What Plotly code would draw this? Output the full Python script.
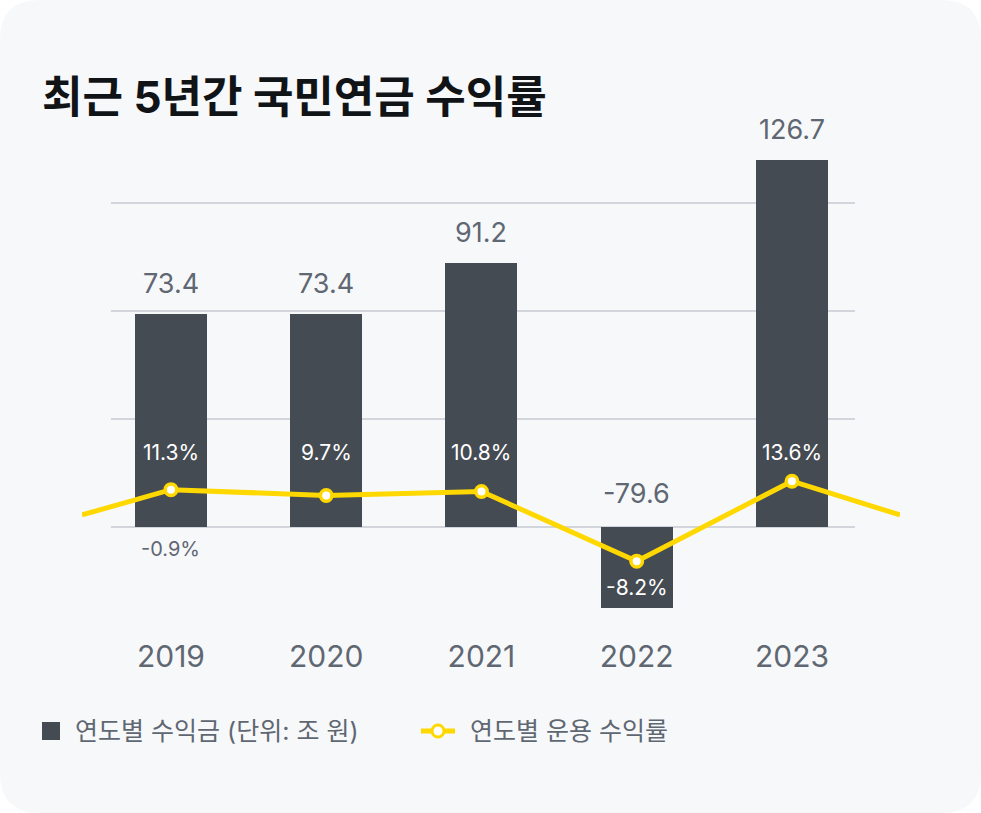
import plotly.graph_objects as go

# ---- data ----
years = ["2019", "2020", "2021", "2022", "2023"]
profit = [73.4, 73.4, 91.2, -79.6, 126.7]          # 연도별 수익금 (조 원)
returns = [11.3, 9.7, 10.8, -8.2, 13.6]            # 연도별 운용 수익률 (%)
line_lead_in = 4.4                                 # line entering from left edge
line_lead_out = 4.4                                # line leaving to right edge
prev_year_return = -0.9                            # label shown under 2019
title = "최근 5년간 국민연금 수익률"
legend_bar = "연도별 수익금 (단위: 조 원)"
legend_line = "연도별 운용 수익률"

# ---- layout geometry (pixels) ----
W, H = 981, 813
PL, PR, PT, PB = 82, 900, 120, 608
X0, X1 = -0.573, 4.696          # category range across plot area
ZERO_PX = 527
K_BAR = 2.9                      # px per 조 원
GRID_STEP_PX = 108
K_LINE = 3.667                   # px per %
LINE_ZERO_PX = 531.1

def px_x(p):
    return (p - PL) / (PR - PL)

def px_y(p):
    return (PB - p) / (PB - PT)

bar_lo = -(PB - ZERO_PX) / K_BAR
bar_hi = (ZERO_PX - PT) / K_BAR
line_lo = -(PB - LINE_ZERO_PX) / K_LINE
line_hi = (LINE_ZERO_PX - PT) / K_LINE

FONT = "Inter, 'Noto Sans CJK KR', sans-serif"
BAR_C = "#454b53"
GRAY_T = "#5f6772"
GRID_C = "#c6cbd2"
YEL = "#ffd800"
CARD = "#f7f8fa"

xs = list(range(len(years)))

fig = go.Figure()
fig.add_trace(go.Bar(
    x=xs, y=profit, width=0.464, marker=dict(color=BAR_C, line=dict(width=0)),
    name=legend_bar, showlegend=False, hoverinfo="skip",
))
line_x = [X0] + xs + [X1]
line_y = [line_lead_in] + returns + [line_lead_out]
fig.add_trace(go.Scatter(
    x=line_x, y=line_y, yaxis="y2", mode="lines",
    line=dict(color=YEL, width=5), showlegend=False, hoverinfo="skip",
))
fig.add_trace(go.Scatter(
    x=xs, y=returns, yaxis="y2", mode="markers",
    marker=dict(size=11.5, color="white", line=dict(color=YEL, width=3.5)),
    showlegend=False, hoverinfo="skip", cliponaxis=False,
))

shapes = []
# card background
r = 40
x0p, x1p, y0p, y1p = px_x(0), px_x(W), px_y(H), px_y(0)
rx = r / (PR - PL)
ry = r / (PB - PT)
path = (f"M {x0p+rx},{y1p} L {x1p-rx},{y1p} Q {x1p},{y1p} {x1p},{y1p-ry} "
        f"L {x1p},{y0p+ry} Q {x1p},{y0p} {x1p-rx},{y0p} L {x0p+rx},{y0p} "
        f"Q {x0p},{y0p} {x0p},{y0p+ry} L {x0p},{y1p-ry} Q {x0p},{y1p} {x0p+rx},{y1p} Z")
shapes.append(dict(type="path", path=path, xref="paper", yref="paper",
                   fillcolor=CARD, line=dict(width=0), layer="below"))
# gridlines
step = GRID_STEP_PX / K_BAR
for i in range(4):
    shapes.append(dict(type="line", xref="x", yref="y", x0=-0.386, x1=4.406,
                       y0=i * step, y1=i * step, line=dict(color=GRID_C, width=1.5),
                       layer="below"))
# legend symbols
shapes.append(dict(type="rect", xref="paper", yref="paper",
                   x0=px_x(42), x1=px_x(60), y0=px_y(740), y1=px_y(722),
                   fillcolor=BAR_C, line=dict(width=0)))
shapes.append(dict(type="line", xref="paper", yref="paper",
                   x0=px_x(421), x1=px_x(455), y0=px_y(731), y1=px_y(731),
                   line=dict(color=YEL, width=5)))
shapes.append(dict(type="circle", xref="paper", yref="paper",
                   x0=px_x(432), x1=px_x(444), y0=px_y(737), y1=px_y(725),
                   fillcolor="white", line=dict(color=YEL, width=3)))

ann = []
ann.append(dict(text=f"<b>{title}</b>", xref="paper", yref="paper",
                x=px_x(40), y=px_y(97), xanchor="left", yanchor="middle",
                showarrow=False, font=dict(family=FONT, size=44, color="#111417")))
for i, v in enumerate(profit):
    if v >= 0:
        ann.append(dict(text=f"{v}", x=i, y=v, xref="x", yref="y", yanchor="bottom",
                        yshift=12, showarrow=False,
                        font=dict(family=FONT, size=27, color=GRAY_T)))
    else:
        ann.append(dict(text=f"{v}", x=i, y=0, xref="x", yref="y", yanchor="bottom",
                        yshift=15, showarrow=False,
                        font=dict(family=FONT, size=27, color=GRAY_T)))
for i, v in enumerate(returns):
    ypos = px_y(452) if v >= 0 else px_y(587)
    ann.append(dict(text=f"{v}%", x=i, y=ypos, xref="x", yref="paper",
                    yanchor="middle", showarrow=False,
                    font=dict(family=FONT, size=21, color="white")))
ann.append(dict(text=f"{prev_year_return}%", x=0, y=px_y(549), xref="x", yref="paper",
                yanchor="middle", showarrow=False,
                font=dict(family=FONT, size=20, color=GRAY_T)))
ann.append(dict(text=legend_bar, xref="paper", yref="paper", x=px_x(73), y=px_y(731),
                xanchor="left", yanchor="middle", showarrow=False,
                font=dict(family=FONT, size=25, color=GRAY_T)))
ann.append(dict(text=legend_line, xref="paper", yref="paper", x=px_x(468), y=px_y(731),
                xanchor="left", yanchor="middle", showarrow=False,
                font=dict(family=FONT, size=25, color=GRAY_T)))

fig.update_layout(
    width=W, height=H,
    margin=dict(l=PL, r=W - PR, t=PT, b=H - PB, pad=0),
    paper_bgcolor="white", plot_bgcolor="rgba(0,0,0,0)",
    shapes=shapes, annotations=ann, showlegend=False,
    xaxis=dict(range=[X0, X1], tickvals=xs, ticktext=years, showgrid=False,
               zeroline=False, showline=False, ticks="", ticklabelstandoff=28,
               tickfont=dict(family=FONT, size=30, color=GRAY_T), fixedrange=True),
    yaxis=dict(range=[bar_lo, bar_hi], showgrid=False, zeroline=False,
               showticklabels=False, fixedrange=True),
    yaxis2=dict(range=[line_lo, line_hi], overlaying="y", showgrid=False,
                zeroline=False, showticklabels=False, fixedrange=True),
    bargap=0,
)

fig.write_html("out.html", config={"displayModeBar": False})
